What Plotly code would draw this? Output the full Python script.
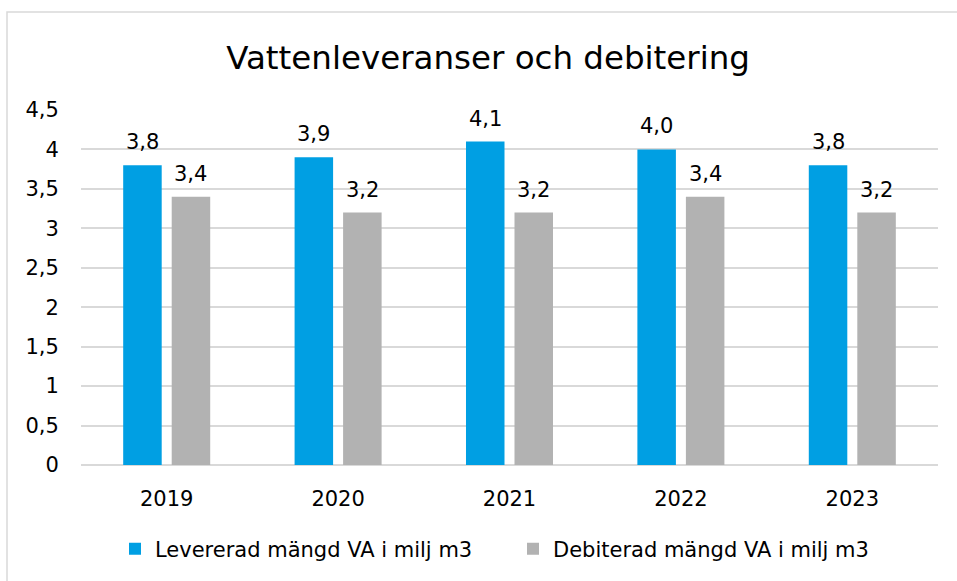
import plotly.graph_objects as go

years = ["2019", "2020", "2021", "2022", "2023"]
levererad = [3.8, 3.9, 4.1, 4.0, 3.8]
debiterad = [3.4, 3.2, 3.2, 3.4, 3.2]
series_names = ["Levererad mängd VA i milj m3", "Debiterad mängd VA i milj m3"]
colors = ["#009FE3", "#B2B2B2"]
ytick_vals = [0, 0.5, 1, 1.5, 2, 2.5, 3, 3.5, 4, 4.5]
ytick_text = ["0", "0,5", "1", "1,5", "2", "2,5", "3", "3,5", "4", "4,5"]
title_text = "Vattenleveranser och debitering"

FONT = "DejaVu Sans"
FS = 21

def fmt(v):
    return f"{v:.1f}".replace(".", ",")

L, R, T, B = 81, 19, 110, 116
W, H = 957, 581
pw, ph = W - L - R, H - T - B
BARGAP, GROUPGAP = 0.434, 0.206

fig = go.Figure()
for name, vals, col in zip(series_names, [levererad, debiterad], colors):
    fig.add_trace(go.Bar(x=years, y=vals, name=name, marker=dict(color=col, line=dict(width=0)),
                         hoverinfo="skip"))

# data labels as annotations, horizontally offset to each bar's centre
cat_px = pw / len(years)
slot_px = cat_px * (1 - BARGAP) / 2
annotations = []
for i, vals in enumerate([levererad, debiterad]):
    shift = (i - 0.5) * slot_px
    for idx, v in enumerate(vals):
        annotations.append(dict(x=idx, y=v, xref="x", yref="y", text=fmt(v), showarrow=False,
                                xshift=shift, yshift=9, yanchor="bottom", xanchor="center",
                                font=dict(size=FS, family=FONT, color="#000000")))

fig.update_layout(
    width=W, height=H,
    margin=dict(l=L, r=R, t=T, b=B, pad=0),
    paper_bgcolor="white", plot_bgcolor="white",
    font=dict(family=FONT, size=FS, color="#000000"),
    title=dict(text=title_text, x=0.51, xanchor="center", y=1 - 58 / H, yanchor="middle",
               yref="container", font=dict(size=32.5, family=FONT, color="#000000")),
    barmode="group", bargap=BARGAP, bargroupgap=GROUPGAP,
    showlegend=True,
    legend=dict(orientation="h", x=(115 - L) / pw, xanchor="left", y=(H - B - 549) / ph, yanchor="middle",
                font=dict(size=FS, family=FONT), itemwidth=30, tracegroupgap=0,
                entrywidth=353, entrywidthmode="pixels",
                bgcolor="rgba(0,0,0,0)"),
    xaxis=dict(type="category", range=[-0.5, len(years) - 0.5], showgrid=False, showline=False,
               ticks="outside", ticklen=15,
               tickcolor="rgba(0,0,0,0)", tickfont=dict(size=FS, family=FONT)),
    yaxis=dict(range=[0, 4.5], tickvals=ytick_vals, ticktext=ytick_text,
               showgrid=True, gridcolor="#D9D9D9", gridwidth=1.5,
               zeroline=True, zerolinecolor="#D9D9D9", zerolinewidth=1.5,
               showline=False, ticks="outside", ticklen=17, tickcolor="rgba(0,0,0,0)",
               tickfont=dict(size=FS, family=FONT)),
    annotations=annotations,
    shapes=[dict(type="rect", xref="paper", yref="paper",
                 x0=(7 - L) / pw, x1=(W + 5 - L) / pw,
                 y0=(H - B - (H + 5)) / ph, y1=(H - B - 12) / ph,
                 line=dict(color="#D9D9D9", width=1.5), fillcolor="rgba(0,0,0,0)", layer="below")],
)

fig.write_html("out.html", config={"displayModeBar": False},
               post_script="document.body.style.margin='0';document.body.style.overflow='hidden';")
